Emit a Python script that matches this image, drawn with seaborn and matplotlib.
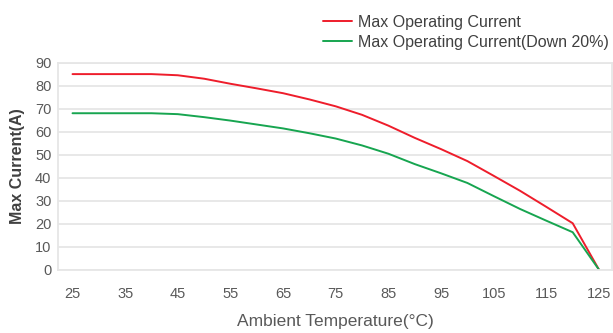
import numpy as np
import pandas as pd
import seaborn as sns
import matplotlib
matplotlib.use("Agg")
from matplotlib import pyplot as plt

# data
temps = [25, 30, 35, 40, 45, 50, 55, 60, 65, 70, 75, 80, 85, 90, 95, 100, 105, 110, 115, 120, 125]
max_current = [85, 85, 85, 85, 84.5, 83, 80.8, 78.8, 76.7, 74, 71, 67.3, 62.6, 57.3, 52.4, 47.2, 40.8, 34.3, 27.3, 20.2, 0]
max_current_down = [68, 68, 68, 68, 67.6, 66.3, 64.8, 63.1, 61.4, 59.3, 57.0, 54.0, 50.4, 45.9, 41.9, 37.7, 32.0, 26.4, 21.3, 16.3, 0]
series_names = ["Max Operating Current", "Max Operating Current(Down 20%)"]
series_colors = ["#EE1D2B", "#17A550"]
y_ticks = [0, 10, 20, 30, 40, 50, 60, 70, 80, 90]
x_ticks = [25, 35, 45, 55, 65, 75, 85, 95, 105, 115, 125]

df = pd.DataFrame({
    "temp": temps * 2,
    "current": max_current + max_current_down,
    "series": [series_names[0]] * len(temps) + [series_names[1]] * len(temps),
})

sns.set_style("white")
plt.rcParams["font.family"] = ["Liberation Sans", "DejaVu Sans"]

fig = plt.figure(figsize=(6.13, 3.33), dpi=100)
ax = fig.add_axes([0.0951, 0.190, 0.9027, 0.622])

sns.lineplot(data=df, x="temp", y="current", hue="series", palette=series_colors,
             linewidth=1.4, ax=ax, legend=False)

ax.set_xlim(22.3, 127.4)
ax.set_ylim(0, 90)
ax.set_xticks(x_ticks)
ax.set_yticks(y_ticks)
ax.grid(axis="y", color="#E6E6E6", linewidth=1.3)
ax.set_axisbelow(True)
for s in ax.spines.values():
    s.set_color("#E6E6E6")
    s.set_linewidth(1.3)
ax.tick_params(axis="both", length=0, labelsize=10.5, labelcolor="#595959")
ax.tick_params(axis="x", pad=12.5)
ax.tick_params(axis="y", pad=5)

ax.set_xlabel("Ambient Temperature(°C)", fontsize=12.5, color="#595959", labelpad=9)
ax.set_ylabel("Max Current(A)", fontsize=11.5, fontweight="bold", color="#404040", labelpad=7)

handles = [plt.Line2D([], [], color=c, lw=1.4) for c in series_colors]
fig.legend(handles, series_names, loc="upper left", bbox_to_anchor=(0.527, 0.955),
           frameon=False, fontsize=11.5, labelcolor="#404040", handlelength=1.8,
           handletextpad=0.4, labelspacing=0.3, borderpad=0, borderaxespad=0)

fig.savefig("out.png", dpi=100)
